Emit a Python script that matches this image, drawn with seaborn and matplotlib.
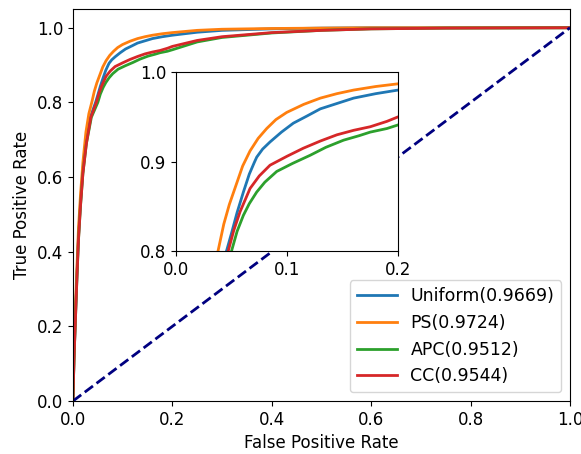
#!/usr/bin/env python3

# ROC curves for the four sampling strategies, with a zoomed inset.

import matplotlib
matplotlib.use("Agg")
import matplotlib.pylab as plt
import pandas
import seaborn as sns

plt.rcParams["font.size"] = 12

labels = ["Uniform(0.9669)", "PS(0.9724)", "APC(0.9512)", "CC(0.9544)"]
colors = ["#1f77b4", "#ff7f0e", "#2ca02c", "#d62728"]

uniform_fpr = [0, 0.002, 0.005, 0.008, 0.011, 0.015, 0.02, 0.027, 0.035, 0.0457, 0.050,
               0.055, 0.0607, 0.066, 0.0705, 0.0727, 0.078, 0.0847, 0.095, 0.1057, 0.118,
               0.130, 0.145, 0.160, 0.18, 0.2, 0.25, 0.3, 0.4, 0.5, 0.6, 1.0]
uniform_tpr = [0, 0.11, 0.23, 0.34, 0.44, 0.53, 0.62, 0.70, 0.76, 0.801, 0.82,
               0.843, 0.866, 0.886, 0.899, 0.905, 0.914, 0.922, 0.933, 0.943, 0.951,
               0.959, 0.965, 0.971, 0.976, 0.980, 0.988, 0.993, 0.997, 0.999, 1.0, 1.0]

ps_fpr = [0, 0.002, 0.005, 0.008, 0.011, 0.015, 0.02, 0.026, 0.032, 0.038, 0.043,
          0.048, 0.0547, 0.060, 0.0667, 0.074, 0.0817, 0.090, 0.0997, 0.115, 0.130,
          0.145, 0.160, 0.18, 0.2, 0.25, 0.3, 0.4, 0.5, 0.6, 1.0]
ps_tpr = [0, 0.12, 0.25, 0.36, 0.46, 0.55, 0.64, 0.72, 0.77, 0.801, 0.83,
          0.852, 0.876, 0.895, 0.912, 0.926, 0.937, 0.947, 0.955, 0.964, 0.971,
          0.976, 0.980, 0.984, 0.987, 0.993, 0.996, 0.998, 0.999, 1.0, 1.0]

apc_fpr = [0, 0.002, 0.005, 0.008, 0.011, 0.015, 0.02, 0.027, 0.037, 0.050, 0.055,
           0.0607, 0.066, 0.0727, 0.080, 0.0907, 0.105, 0.1207, 0.135, 0.151, 0.165,
           0.175, 0.19, 0.2, 0.25, 0.3, 0.4, 0.5, 0.6, 0.75, 1.0]
apc_tpr = [0, 0.11, 0.22, 0.33, 0.43, 0.52, 0.61, 0.69, 0.76, 0.80, 0.822,
           0.840, 0.853, 0.866, 0.877, 0.889, 0.898, 0.907, 0.916, 0.924, 0.929,
           0.933, 0.937, 0.941, 0.962, 0.974, 0.986, 0.993, 0.997, 0.999, 1.0]

cc_fpr = [0, 0.002, 0.005, 0.008, 0.011, 0.015, 0.02, 0.027, 0.036, 0.047, 0.052,
          0.0577, 0.0667, 0.075, 0.0847, 0.10, 0.1147, 0.13, 0.145, 0.16, 0.175,
          0.19, 0.2, 0.25, 0.3, 0.4, 0.5, 0.6, 0.75, 1.0]
cc_tpr = [0, 0.11, 0.22, 0.33, 0.43, 0.52, 0.61, 0.69, 0.76, 0.80, 0.823,
          0.844, 0.870, 0.884, 0.896, 0.906, 0.915, 0.923, 0.930, 0.935, 0.939,
          0.945, 0.950, 0.966, 0.976, 0.987, 0.993, 0.997, 0.999, 1.0]

chance = [0, 1]


def build_df():
    """
    Stack the curves into one long table for seaborn.
    """
    frames = []
    for label, fpr, tpr in zip(labels,
                               [uniform_fpr, ps_fpr, apc_fpr, cc_fpr],
                               [uniform_tpr, ps_tpr, apc_tpr, cc_tpr]):
        frames.append(pandas.DataFrame({"fpr": fpr, "tpr": tpr, "method": label}))
    return pandas.concat(frames, ignore_index=True)


df = build_df()
palette = dict(zip(labels, colors))

fig = plt.figure(figsize=(5.81, 4.54), dpi=100)
ax = fig.add_axes([0.1256, 0.1167, 0.8554, 0.8633])

sns.lineplot(data=df, x="fpr", y="tpr", hue="method", palette=palette,
             estimator=None, sort=False, linewidth=2, ax=ax)
ax.plot(chance, chance, color="navy", linestyle="--", linewidth=2)
ax.set_xlim(0, 1)
ax.set_ylim(0, 1.05)
ax.set_xlabel("False Positive Rate")
ax.set_ylabel("True Positive Rate")
ax.legend(loc="lower right", title=None, fontsize=12.5, handlelength=2.3)

# zoomed view of the top-left corner
inset = fig.add_axes([0.303, 0.447, 0.382, 0.394])
sns.lineplot(data=df, x="fpr", y="tpr", hue="method", palette=palette,
             estimator=None, sort=False, linewidth=2, ax=inset, legend=False)
inset.plot(chance, chance, color="navy", linestyle="--", linewidth=2)
inset.set_xlim(0, 0.2)
inset.set_ylim(0.8, 1.0)
inset.set_xticks([0.0, 0.1, 0.2])
inset.set_yticks([0.8, 0.9, 1.0])
inset.set_xlabel("")
inset.set_ylabel("")

fig.savefig("out.png", dpi=100)
